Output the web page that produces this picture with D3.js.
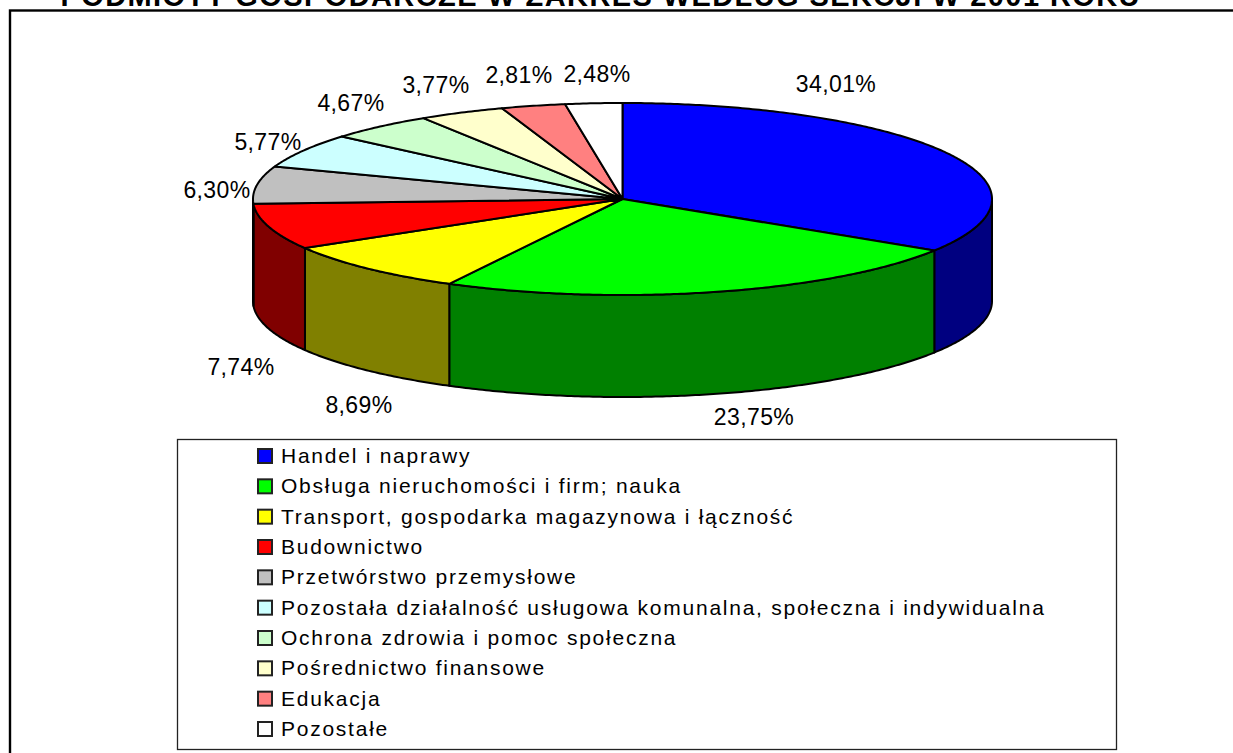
<!DOCTYPE html>
<html lang="pl"><head><meta charset="utf-8">
<script src="https://cdn.jsdelivr.net/npm/d3@7/dist/d3.min.js"></script>
<style>html,body{margin:0;background:#fff;overflow:hidden}svg{display:block}text{font-family:"Liberation Sans",Arial,sans-serif;fill:#000}</style>
</head><body><svg id="c" width="1233" height="753"></svg>
<script>
const titleText = "PODMIOTY GOSPODARCZE W ZAKRES WEDŁUG SEKCJI W 2001 ROKU";
const categories = ["Handel i naprawy","Obsługa nieruchomości i firm; nauka","Transport, gospodarka magazynowa i łączność","Budownictwo","Przetwórstwo przemysłowe","Pozostała działalność usługowa komunalna, społeczna i indywidualna","Ochrona zdrowia i pomoc społeczna","Pośrednictwo finansowe","Edukacja","Pozostałe"];
const shares = [34.01,23.75,8.69,7.74,6.30,5.77,4.67,3.77,2.81,2.48];
const topColors = ["#0000ff","#00ff00","#ffff00","#ff0000","#c0c0c0","#ccffff","#ccffcc","#ffffcc","#ff8080","#ffffff"];
const wallColors = ["#000080","#008000","#808000","#800000","#606060","#668080","#668066","#808066","#804040","#808080"];
// layout of the data labels (centre of each text, px)
const labelLayout = [[836,84],[754,417],[359,405],[241,367],[217,190],[268,142],[351,103],[436,85],[519,75],[597,74]];

const svg = d3.select("#c");
const cx = 622.5, cy = 199, rx = 369.5, ry = 96, depth = 102;
const sx = d3.scaleLinear().domain([-1,1]).range([cx-rx,cx+rx]);
const sy = d3.scaleLinear().domain([-1,1]).range([cy-ry,cy+ry]);
const line = d3.line().x(d=>d[0]).y(d=>d[1]);
const onRim = (a,dy=0)=>[sx(Math.sin(a)), sy(-Math.cos(a))+dy];
const sample = (a0,a1)=>{const n=Math.max(2,Math.ceil((a1-a0)/0.01));return d3.range(n+1).map(i=>a0+(a1-a0)*i/n);};

// outer chart frame
svg.append("rect").attr("x",10).attr("y",10.5).attr("width",1400).attr("height",900).attr("fill","#fff").attr("stroke","#000").attr("stroke-width",2.4);
svg.append("text").attr("x",600).attr("y",6).attr("text-anchor","middle").attr("font-weight","bold").attr("font-size",29).attr("textLength",1079).attr("lengthAdjust","spacing").text(titleText);

const arcs = d3.pie().sort(null)(shares);

// side walls: only the near half of the rim (90°–270°) is visible
const walls = arcs.map((d,i)=>({i,a0:Math.max(d.startAngle,Math.PI/2),a1:Math.min(d.endAngle,Math.PI*1.5)})).filter(d=>d.a1>d.a0);
svg.append("g").selectAll("path").data(walls).join("path")
  .attr("d",d=>{const top=sample(d.a0,d.a1);
    return line([...top.map(a=>onRim(a)),...top.slice().reverse().map(a=>onRim(a,depth))])+"Z";})
  .attr("fill",d=>wallColors[d.i]).attr("stroke","#000").attr("stroke-width",2).attr("stroke-linejoin","round");

// top faces
svg.append("g").selectAll("path").data(arcs).join("path")
  .attr("d",d=>line([[sx(0),sy(0)],...sample(d.startAngle,d.endAngle).map(a=>onRim(a))])+"Z")
  .attr("fill",(d,i)=>topColors[i]).attr("stroke","#000").attr("stroke-width",2).attr("stroke-linejoin","round");

// data labels
const fmt = v=>v.toFixed(2).replace(".",",")+"%";
svg.append("g").selectAll("text").data(shares).join("text")
  .attr("x",(d,i)=>labelLayout[i][0]).attr("y",(d,i)=>labelLayout[i][1]+8)
  .attr("text-anchor","middle").attr("font-size",23).attr("letter-spacing",0.4).attr("fill","#111").text(fmt);

// legend
svg.append("rect").attr("x",177.5).attr("y",439.5).attr("width",939).attr("height",310).attr("fill","#fff").attr("stroke","#222").attr("stroke-width",1.3);
const legendY = d3.scalePoint().domain(categories).range([456,729]);
const rows = svg.append("g").selectAll("g").data(categories).join("g").attr("transform",d=>`translate(0,${legendY(d)})`);
rows.append("rect").attr("x",258).attr("y",-7).attr("width",14).attr("height",14).attr("fill",(d,i)=>topColors[i]).attr("stroke","#222").attr("stroke-width",2);
rows.append("text").attr("x",281).attr("y",7).attr("font-size",21).attr("letter-spacing",1.75).text(d=>d);
</script></body></html>
